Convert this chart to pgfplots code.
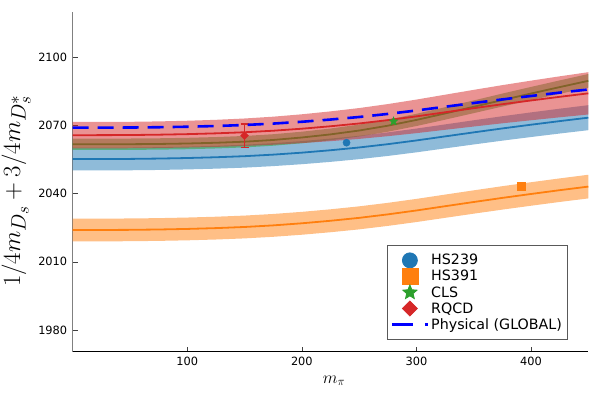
\documentclass[border=0pt]{standalone}
\usepackage{fontspec}
\setmainfont{DejaVu Sans}
\usepackage{pgfplots}
\usepackage{pgfplotstable}
\pgfplotsset{compat=1.18}
\usetikzlibrary{plotmarks}

\definecolor{tblue}{HTML}{1F77B4}
\definecolor{torange}{HTML}{FF7F0E}
\definecolor{tgreen}{HTML}{2CA02C}
\definecolor{tred}{HTML}{D62728}

\pgfdeclareplotmark{fstar}{%
  \pgfpathmoveto{\pgfpointpolar{90}{\pgfplotmarksize}}%
  \pgfpathlineto{\pgfpointpolar{126}{0.45\pgfplotmarksize}}%
  \pgfpathlineto{\pgfpointpolar{162}{\pgfplotmarksize}}%
  \pgfpathlineto{\pgfpointpolar{198}{0.45\pgfplotmarksize}}%
  \pgfpathlineto{\pgfpointpolar{234}{\pgfplotmarksize}}%
  \pgfpathlineto{\pgfpointpolar{270}{0.45\pgfplotmarksize}}%
  \pgfpathlineto{\pgfpointpolar{306}{\pgfplotmarksize}}%
  \pgfpathlineto{\pgfpointpolar{342}{0.45\pgfplotmarksize}}%
  \pgfpathlineto{\pgfpointpolar{18}{\pgfplotmarksize}}%
  \pgfpathlineto{\pgfpointpolar{54}{0.45\pgfplotmarksize}}%
  \pgfpathclose\pgfusepathqfillstroke}

% central curves
\pgfplotstableread{
x blue orange green red phys
0 2055.20 2024.00 2061.70 2065.70 2069.00
25 2055.22 2024.02 2061.71 2065.72 2069.02
50 2055.27 2024.08 2061.74 2065.77 2069.07
75 2055.42 2024.23 2061.84 2065.92 2069.20
100 2055.66 2024.48 2062.04 2066.16 2069.42
125 2056.00 2024.84 2062.37 2066.51 2069.74
150 2056.47 2025.34 2062.84 2066.99 2070.18
175 2057.15 2026.04 2063.60 2067.67 2070.80
200 2058.02 2026.96 2064.69 2068.55 2071.60
225 2059.08 2028.07 2066.05 2069.62 2072.58
250 2060.30 2029.35 2067.75 2070.85 2073.70
275 2061.75 2030.88 2069.87 2072.32 2075.05
300 2063.39 2032.60 2072.41 2073.98 2076.56
325 2065.17 2034.47 2075.26 2075.78 2078.21
350 2066.94 2036.32 2078.19 2077.57 2079.84
375 2068.67 2038.13 2081.15 2079.32 2081.43
400 2070.31 2039.85 2084.02 2080.97 2082.94
425 2071.89 2041.52 2086.84 2082.57 2084.41
450 2073.40 2043.10 2089.60 2084.10 2085.80
}\curves

% bands: upper edge left to right, then lower edge right to left
\pgfplotstableread{
x blue orange green red
0 2060.20 2029.00 2064.20 2071.50
25 2060.22 2029.02 2064.21 2071.52
50 2060.27 2029.08 2064.24 2071.58
75 2060.43 2029.23 2064.34 2071.76
100 2060.67 2029.49 2064.55 2072.05
125 2061.02 2029.85 2064.88 2072.46
150 2061.51 2030.35 2065.36 2073.04
175 2062.20 2031.06 2066.13 2073.84
200 2063.10 2031.99 2067.24 2074.89
225 2064.19 2033.11 2068.63 2076.17
250 2065.44 2034.41 2070.36 2077.63
275 2066.93 2035.95 2072.52 2079.38
300 2068.62 2037.69 2075.10 2081.36
325 2070.44 2039.58 2078.00 2083.50
350 2072.26 2041.45 2080.99 2085.63
375 2074.04 2043.28 2084.00 2087.71
400 2075.73 2045.02 2086.92 2089.68
425 2077.35 2046.70 2089.79 2091.58
450 2078.90 2048.30 2092.60 2093.40
450 2067.90 2037.90 2086.60 2074.80
425 2066.43 2036.34 2083.89 2073.56
400 2064.89 2034.68 2081.12 2072.26
375 2063.30 2032.98 2078.30 2070.93
350 2061.62 2031.19 2075.39 2069.51
325 2059.90 2029.36 2072.52 2068.06
300 2058.16 2027.51 2069.72 2066.60
275 2056.57 2025.81 2067.22 2065.26
250 2055.16 2024.29 2065.14 2064.07
225 2053.97 2023.03 2063.47 2063.07
200 2052.94 2021.93 2062.14 2062.21
175 2052.10 2021.02 2061.07 2061.50
150 2051.43 2020.32 2060.32 2060.94
125 2050.98 2019.83 2059.86 2060.56
100 2050.65 2019.47 2059.53 2060.27
75 2050.41 2019.23 2059.34 2060.08
50 2050.27 2019.08 2059.24 2059.96
25 2050.22 2019.02 2059.21 2059.92
0 2050.20 2019.00 2059.20 2059.90
}\bands

\begin{document}
\begin{tikzpicture}
\path[use as bounding box] (0,0) rectangle (600bp,400bp);
\begin{axis}[
  at={(72.7bp,48.3bp)}, anchor=south west,
  scale only axis, width=515.6bp, height=340bp,
  xmin=0, xmax=450, ymin=1970.5, ymax=2120,
  xtick={100,200,300,400}, ytick={1980,2010,2040,2070,2100},
  axis x line=bottom, axis y line=left,
  x axis line style={-, black, line width=0.9bp},
  y axis line style={-, black!50, line width=1.2bp},
  tick align=inside, major tick length=5bp,
  tick style={black!75, line width=0.7bp},
  /pgf/number format/assume math mode=true,
  /pgf/number format/1000 sep={},
  tick label style={font=\fontsize{11.4}{13}\selectfont},
  xticklabel style={yshift=-2bp},
  yticklabel style={xshift=-2bp},
  xlabel={$m_\pi$}, ylabel={$1/4m_{D_s}+3/4m_{D_s^*}$},
  every axis x label/.style={at={(axis description cs:0.507,-0.093)}, anchor=base,
    font=\fontsize{17.28}{20}\selectfont},
  every axis y label/.style={at={(axis description cs:-0.1022,0.473)}, anchor=base, rotate=90,
    font=\fontsize{24.88}{28}\selectfont},
  legend style={at={(axis description cs:0.609,0.314)}, anchor=north west,
    draw=black!65, line width=0.8bp, fill=white,
    font=\fontsize{14.3}{16}\selectfont,
    inner xsep=3.5bp, inner ysep=7bp, row sep=0bp},
  legend cell align=left,
]
% HS239 (blue)
\addplot[fill=tblue, fill opacity=0.5, draw=none, forget plot] table[x=x,y=blue]{\bands};
\addplot[tblue, line width=1.8bp, forget plot] table[x=x,y=blue]{\curves};
\addplot[only marks, mark=*, mark size=3.6bp, color=tblue,
  legend image code/.code={\path (0bp,0bp) (36bp,0bp); \draw[tblue, fill=tblue, mark size=7.5bp] plot[mark=*] coordinates {(18bp,0bp)};}]
  coordinates {(239,2062.4)};
\addlegendentry{HS239}
% HS391 (orange)
\addplot[fill=torange, fill opacity=0.5, draw=none, forget plot] table[x=x,y=orange]{\bands};
\addplot[torange, line width=1.8bp, forget plot] table[x=x,y=orange]{\curves};
\addplot[only marks, mark=square*, mark size=4bp, color=torange,
  legend image code/.code={\path (0bp,0bp) (36bp,0bp); \draw[torange, fill=torange, mark size=8bp] plot[mark=square*] coordinates {(18bp,0bp)};}]
  coordinates {(391,2043.4)};
\addlegendentry{HS391}
% CLS (green)
\addplot[fill=tgreen, fill opacity=0.5, draw=none, forget plot] table[x=x,y=green]{\bands};
\addplot[tgreen, line width=1.8bp, forget plot] table[x=x,y=green]{\curves};
\addplot[only marks, mark=fstar, mark size=4.5bp, color=tgreen,
  legend image code/.code={\path (0bp,0bp) (36bp,0bp); \draw[tgreen, fill=tgreen, mark size=7.5bp] plot[mark=fstar] coordinates {(18bp,0bp)};}]
  coordinates {(280,2071.8)};
\addlegendentry{CLS}
% RQCD (red)
\addplot[fill=tred, fill opacity=0.5, draw=none, forget plot] table[x=x,y=red]{\bands};
\addplot[tred, line width=1.8bp, forget plot] table[x=x,y=red]{\curves};
\addplot[only marks, mark=square*, mark size=2.8bp, mark options={rotate=45}, color=tred,
  error bars/.cd, y dir=both, y explicit,
  error bar style={line width=1.5bp, tred},
  error mark=-,
  error mark options={rotate=90, mark size=4bp, line width=1.5bp, tred},
  /pgfplots/legend image code/.code={\path (0bp,0bp) (36bp,0bp); \draw[tred, fill=tred, mark size=5.3bp] plot[mark=square*, mark options={rotate=45}] coordinates {(18bp,0bp)};}]
  coordinates {(150,2065.5) +- (0,5.2)};
\addlegendentry{RQCD}
% Physical
\addplot[color=blue, line width=2.6bp, dash pattern=on 16bp off 9bp,
  legend image code/.code={\draw[blue, line width=2.6bp, dash pattern=on 21bp off 12bp] (0bp,0bp) -- (36bp,0bp);}]
  table[x=x,y=phys]{\curves};
\addlegendentry{Physical (GLOBAL)}
\end{axis}
\end{tikzpicture}
\end{document}
